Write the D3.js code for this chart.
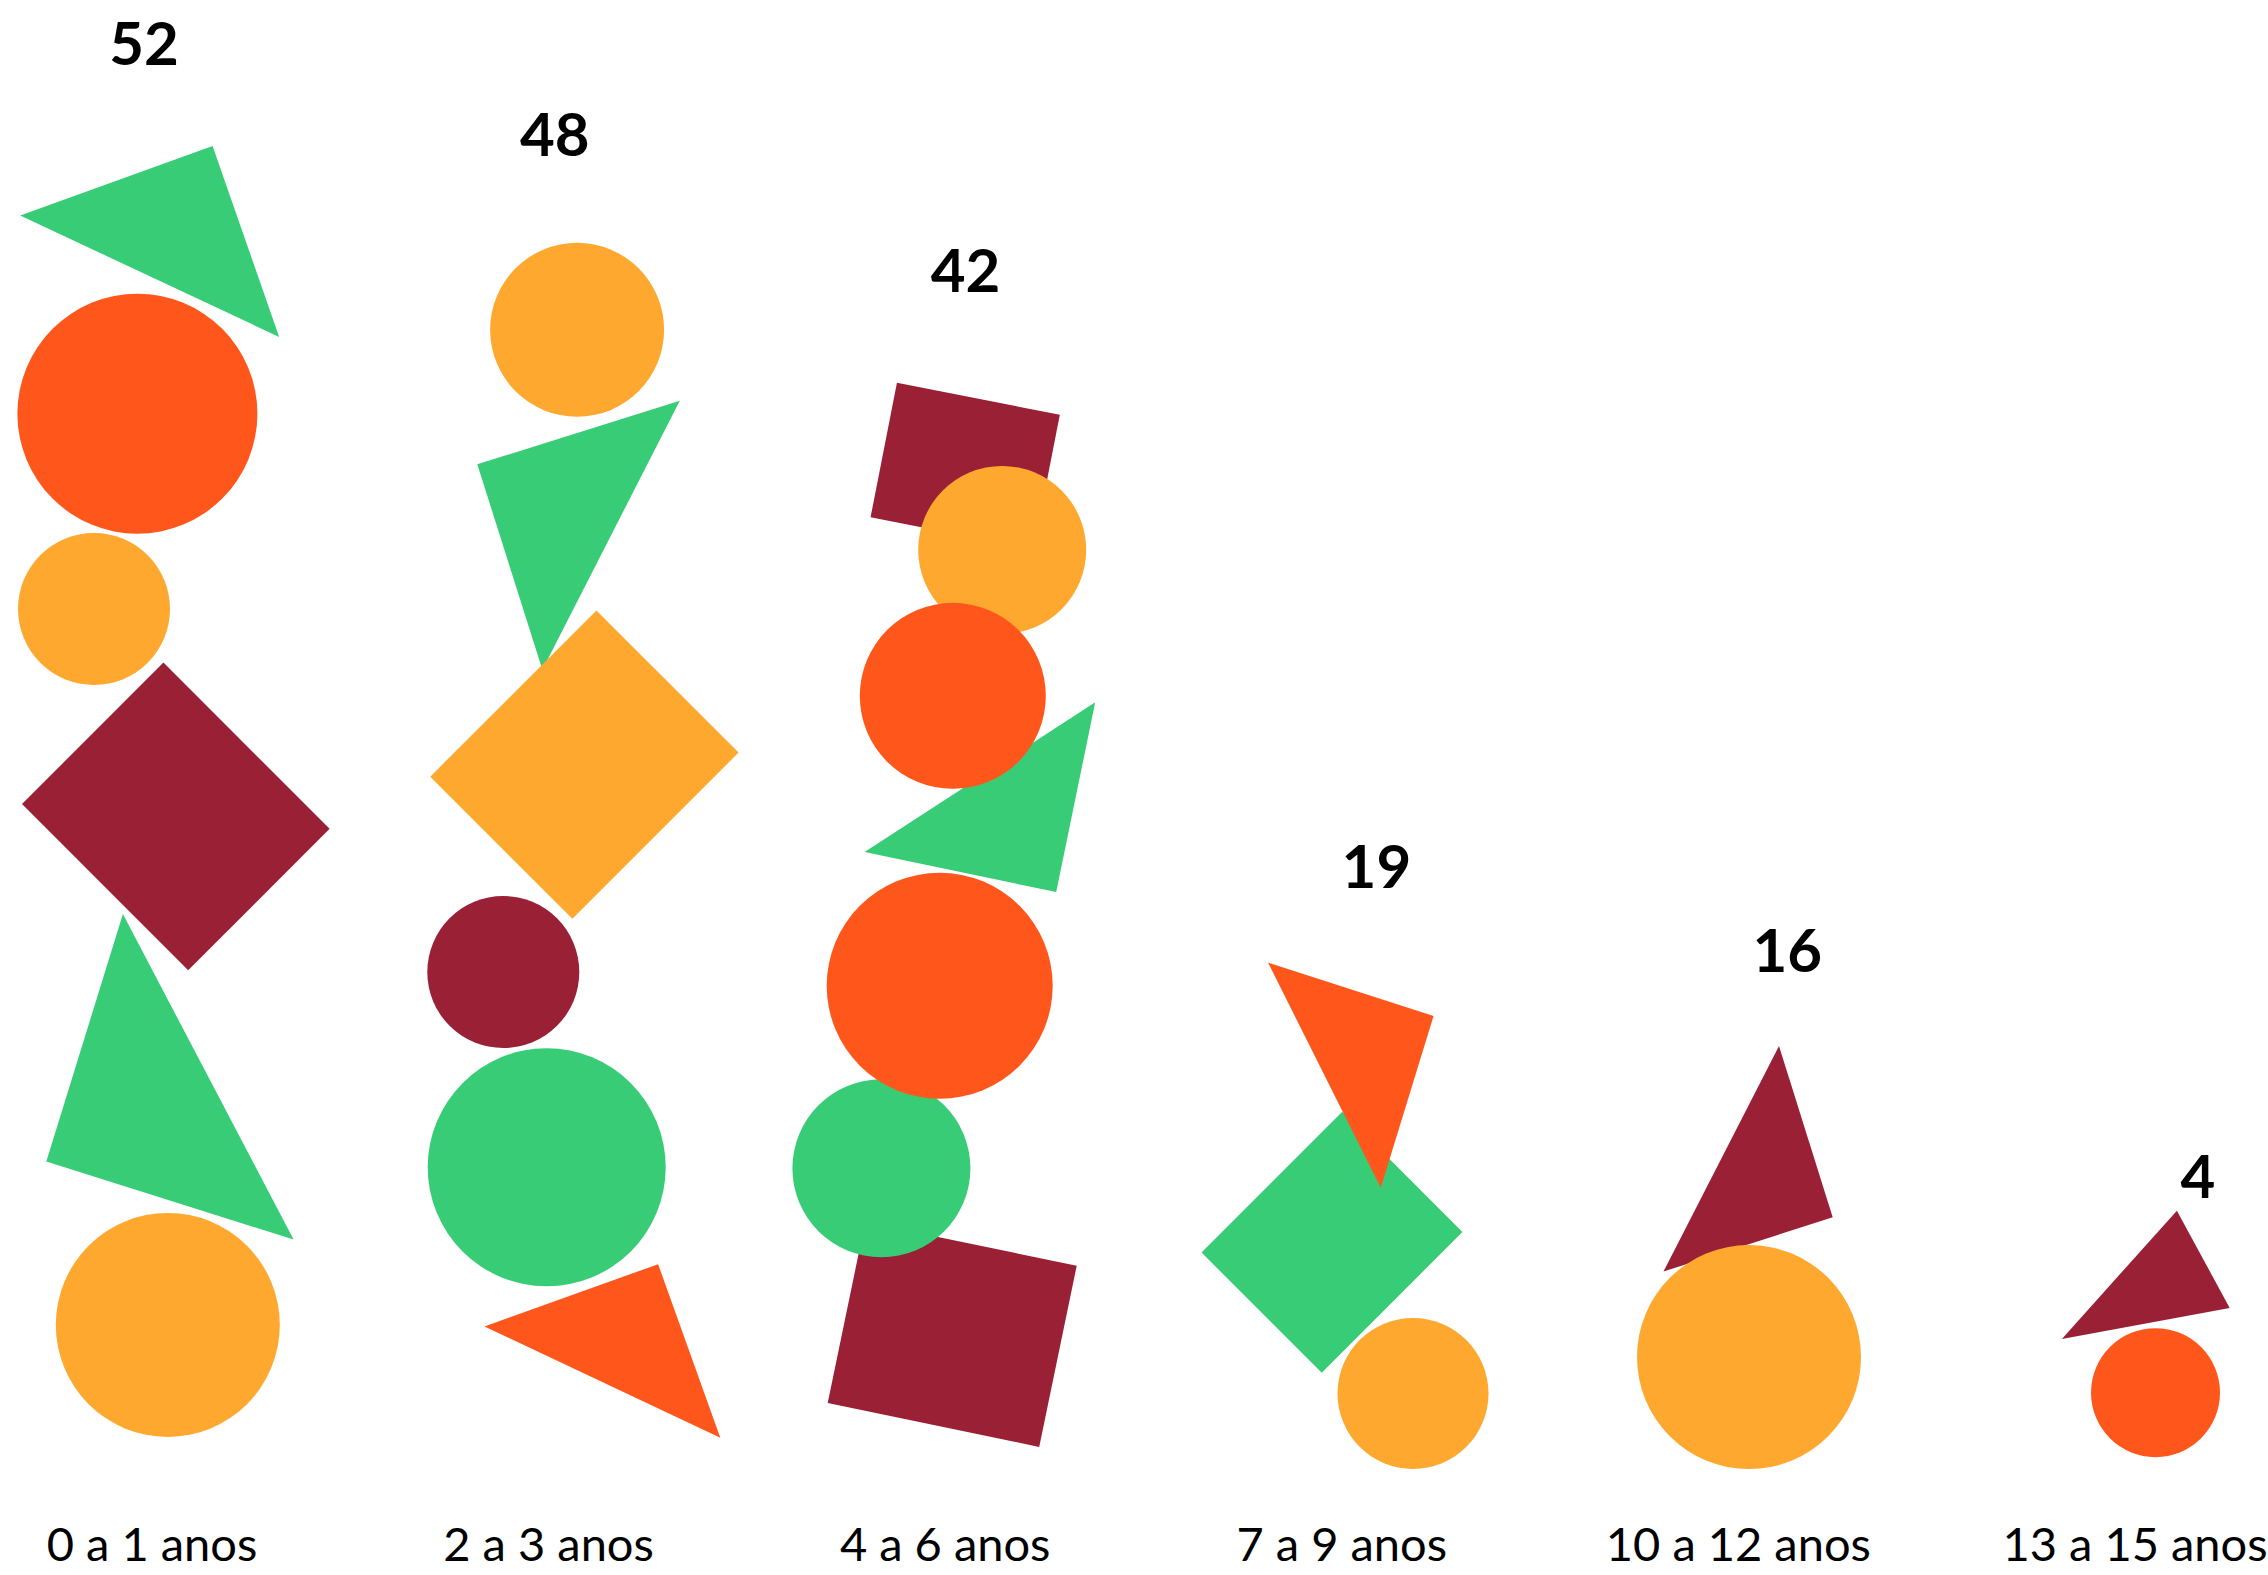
<!DOCTYPE html>
<html>
<head>
<meta charset="utf-8">
<script src="https://cdn.jsdelivr.net/npm/d3@7"></script>
<style>
  html, body { margin: 0; padding: 0; background: #ffffff; }
  svg { display: block; }
</style>
</head>
<body>
<svg id="chart"></svg>
<script>
// Age groups and counts
const categories = ["0 a 1 anos", "2 a 3 anos", "4 a 6 anos", "7 a 9 anos", "10 a 12 anos", "13 a 15 anos"];
const values = [52, 48, 42, 19, 16, 4];

// Palette for the stacked pictogram pieces
const fills = { green: "#39CC76", red: "#FF561C", amber: "#FEA82F", maroon: "#9A2035" };

// Pictogram pieces for each column, in drawing order.
// Heights are given in value units (through the y scale); dx is a pixel offset from the column centre.
//   ["circle", fill, dx, at, r]
//   ["rect",   fill, dx, at, w, h, angle]
//   ["tri",    fill, [[dx, at], [dx, at], [dx, at]]]
const glyphs = [
  [
    ["tri", "green", [[-131.8, 49.17], [60.6, 51.96], [127.2, 44.29]]],
    ["circle", "red", -14.6, 41.21, 120],
    ["circle", "amber", -58, 33.37, 76],
    ["rect", "maroon", 23.8, 25.04, 235, 200, 45],
    ["tri", "green", [[-29.1, 21.12], [-105.7, 11.18], [141.6, 8.05]]],
    ["circle", "amber", 15.8, 4.62, 112]
  ],
  [
    ["circle", "amber", 28.5, 44.58, 87],
    ["tri", "green", [[-71.3, 39.18], [131.2, 41.73], [-6.2, 30.93]]],
    ["rect", "amber", 35.8, 27.12, 201, 235, 45],
    ["circle", "maroon", -45.3, 18.79, 76],
    ["circle", "green", -1.9, 10.95, 119],
    ["tri", "red", [[-64.1, 4.56], [109.5, 7.06], [171.7, 0.09]]]
  ],
  [
    ["rect", "maroon", 20, 39.11, 166, 137, 11.1],
    ["circle", "amber", 57, 35.74, 84],
    ["tri", "green", [[150, 29.62], [111, 22.0], [-80.6, 23.61]]],
    ["circle", "red", 7.6, 29.88, 93],
    ["rect", "maroon", 7, 4.24, 216, 185, 11.7],
    ["circle", "green", -63.8, 10.91, 89],
    ["circle", "red", -5.5, 18.24, 113]
  ],
  [
    ["rect", "green", -9.8, 7.94, 170, 199, 45],
    ["circle", "amber", 71.2, 1.87, 75.5],
    ["tri", "red", [[-73.8, 19.17], [91.8, 17.03], [39, 10.13]]]
  ],
  [
    ["tri", "maroon", [[40.6, 15.82], [94.3, 8.94], [-74.9, 6.77]]],
    ["circle", "amber", 10.6, 3.33, 112]
  ],
  [
    ["tri", "maroon", [[41.9, 9.21], [94.7, 5.30], [-73.1, 4.06]]],
    ["circle", "red", 20.5, 1.90, 64.5]
  ]
];

// Gap between the top of each column and its count label
const labelLift = [80, 89, 102, 79, 70, 142];

const W = 2268, H = 1575;
const svg = d3.select("#chart").attr("width", W).attr("height", H);

const x = d3.scalePoint().domain(categories).range([152, 2135]);
const xLabel = d3.scalePoint().domain(categories).range([144, 2198]);
const y = d3.scaleLinear().domain([0, 52]).range([1440, 145]);

const cols = svg.selectAll("g.col")
  .data(categories.map((c, i) => ({ c, v: values[i], pieces: glyphs[i] })))
  .join("g")
  .attr("class", "col");

cols.each(function (d) {
  const g = d3.select(this);
  const cx = x(d.c);
  d.pieces.forEach(p => {
    const [kind, fill] = p;
    if (kind === "circle") {
      g.append("circle")
        .attr("cx", cx + p[2])
        .attr("cy", y(p[3]))
        .attr("r", p[4])
        .attr("fill", fills[fill]);
    } else if (kind === "rect") {
      const px = cx + p[2], py = y(p[3]), w = p[4], h = p[5];
      g.append("rect")
        .attr("x", -w / 2).attr("y", -h / 2)
        .attr("width", w).attr("height", h)
        .attr("transform", `translate(${px},${py}) rotate(${p[6]})`)
        .attr("fill", fills[fill]);
    } else if (kind === "tri") {
      const line = d3.line().x(q => cx + q[0]).y(q => y(q[1]));
      g.append("path")
        .attr("d", line(p[2]) + "Z")
        .attr("fill", fills[fill]);
    }
  });
});

// Count labels above each column
svg.selectAll("text.value")
  .data(categories.map((c, i) => ({ c, v: values[i], lift: labelLift[i] })))
  .join("text")
  .attr("class", "value")
  .attr("x", d => xLabel(d.c))
  .attr("y", d => y(d.v) - d.lift)
  .attr("text-anchor", "middle")
  .attr("font-family", "Lato, 'Open Sans', sans-serif")
  .attr("font-weight", 700)
  .attr("font-size", 60)
  .attr("fill", "#000")
  .text(d => d.v);

// Category labels along the bottom
svg.selectAll("text.cat")
  .data(categories)
  .join("text")
  .attr("class", "cat")
  .attr("x", d => x(d))
  .attr("y", 1561)
  .attr("text-anchor", "middle")
  .attr("font-family", "Lato, 'Open Sans', sans-serif")
  .attr("font-size", 47)
  .attr("fill", "#000")
  .text(d => d);
</script>
</body>
</html>
